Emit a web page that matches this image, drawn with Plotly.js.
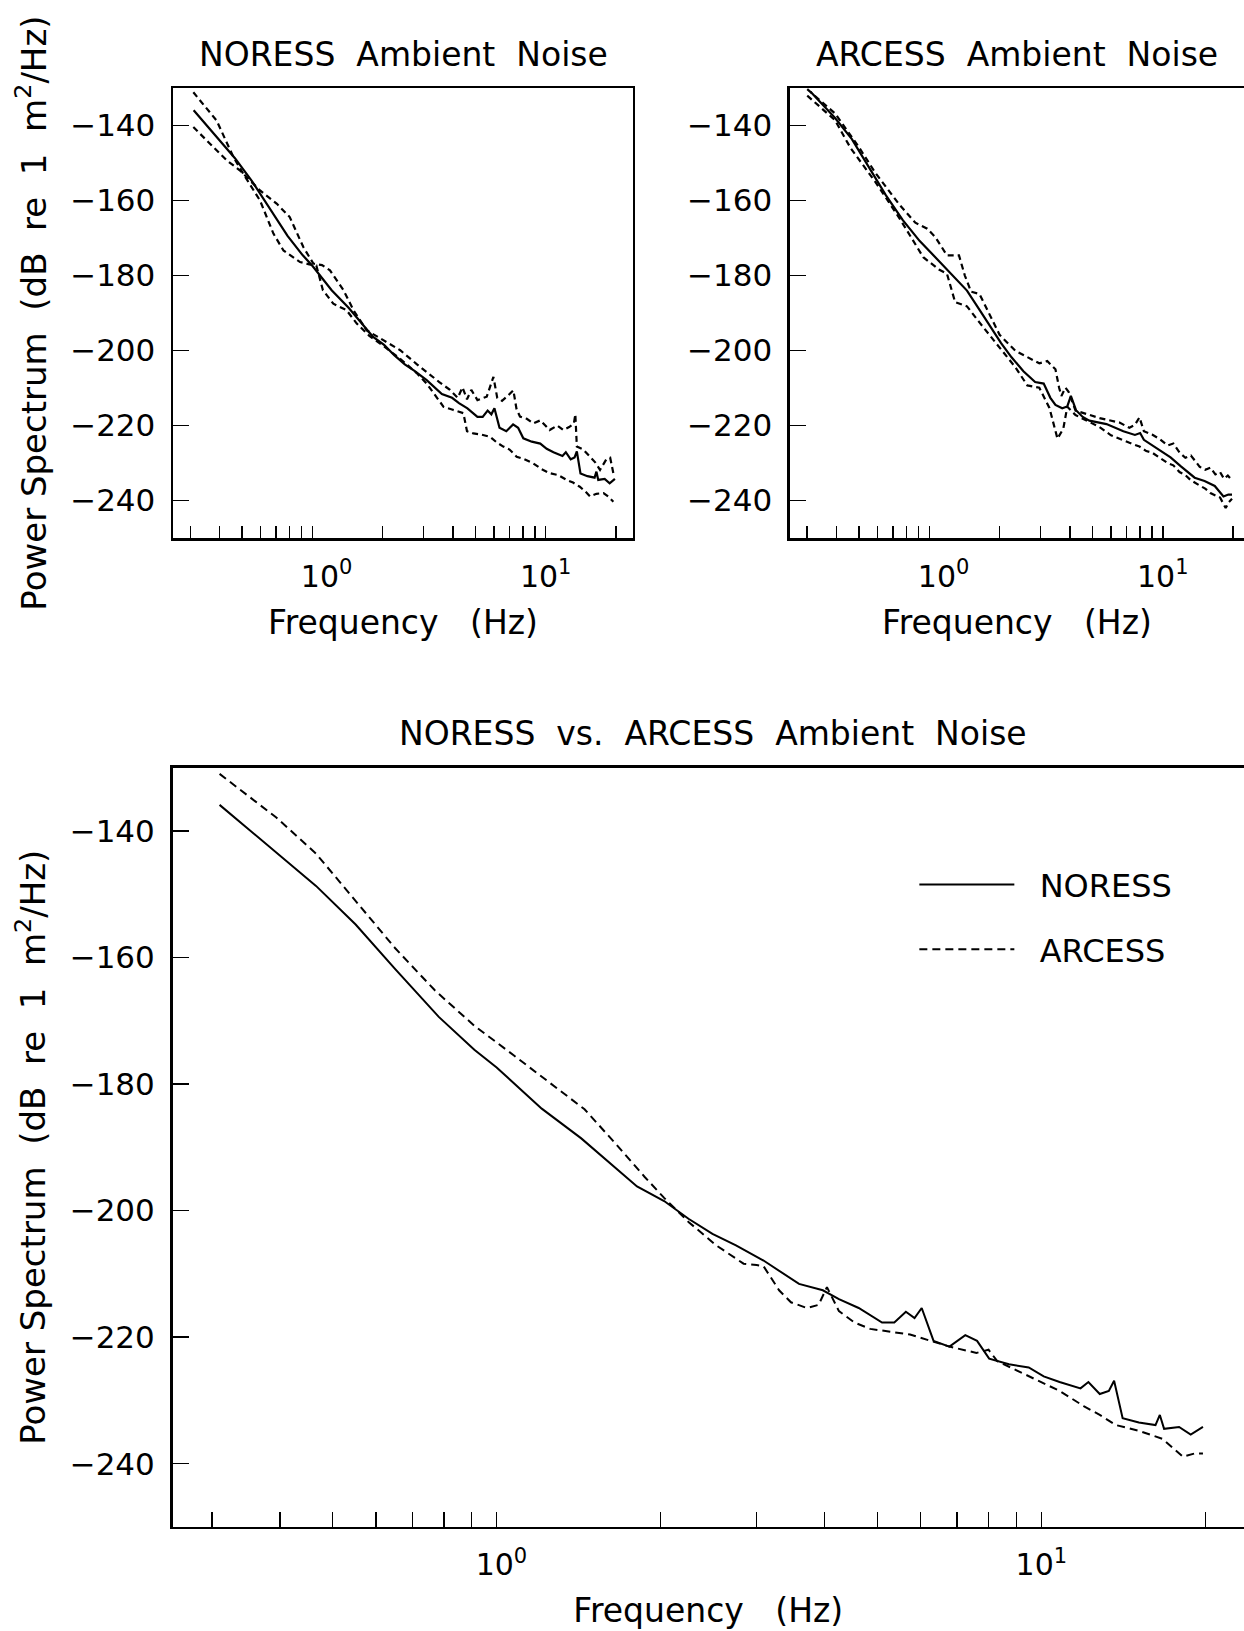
<!DOCTYPE html>
<html>
<head>
<meta charset="utf-8">
<script src="https://cdn.plot.ly/plotly-3.0.1.min.js"></script>
<style>
html,body{margin:0;padding:0;background:#ffffff;}
#chart{width:1244px;height:1631px;}
</style>
</head>
<body>
<div id="chart"></div>
<script>
// ---------- data ----------
// NORESS mean spectrum (solid)
const noressFreq = [0.31,0.394,0.466,0.551,0.652,0.783,0.91,1.0,1.21,1.43,1.61,1.81,2.03,2.25,2.49,2.75,3.09,3.59,3.97,4.25,4.62,5.1,5.37,5.64,5.85,6.03,6.34,6.78,7.25,7.62,8.02,8.72,9.48,10.1,10.8,11.8,12.2,12.8,13.3,13.6,14.1,15.1,16.2,16.5,16.8,17.9,18.8,19.8];
const noressMean = [-135.9,-143.4,-148.7,-154.8,-161.9,-169.4,-174.6,-177.4,-183.9,-188.6,-192.4,-196.2,-198.5,-201.3,-203.7,-205.5,-207.9,-211.6,-212.6,-214.0,-215.4,-217.7,-217.7,-216.0,-217.0,-215.4,-220.6,-221.5,-219.7,-220.6,-223.4,-224.3,-224.8,-226.2,-227.1,-228.1,-227.1,-229.0,-228.5,-226.9,-232.8,-233.5,-233.9,-232.3,-234.5,-234.2,-235.4,-234.2];

// ARCESS mean spectrum (dashed in the comparison plot)
const arcessFreq = [0.31,0.394,0.466,0.551,0.652,0.77,0.91,1.076,1.27,1.45,1.66,1.87,2.03,2.25,2.53,2.84,3.0,3.09,3.3,3.47,3.71,3.9,4.04,4.25,4.54,4.85,5.74,6.78,7.6,8.0,8.3,9.48,10.8,11.96,12.8,13.7,15.1,16.7,18.2,19.1,19.8];
const arcessMean = [-131.0,-137.9,-143.6,-151.1,-158.6,-165.2,-170.8,-175.5,-180.2,-184.0,-189.6,-194.7,-198.0,-201.8,-205.5,-208.4,-208.6,-208.8,-212.6,-214.5,-215.4,-214.9,-212.1,-215.9,-217.7,-218.7,-219.6,-221.5,-222.5,-222.0,-223.8,-226.2,-228.5,-230.9,-232.3,-233.9,-234.8,-236.1,-238.9,-238.4,-238.4];

// NORESS spread curves (dashed, top-left panel)
const noressBandAFreq = [0.309,0.389,0.459,0.506,0.597,0.681,0.752,0.886,0.97,1.04,1.11,1.23,1.40,1.55,1.75,2.0,2.4,2.8,3.09,3.4,3.65,4.0,4.44,4.6,4.9,5.3,5.77,6.2,6.58,7.0,7.51,8.1,8.85,9.6,10.4,11.3,12.3,13.1,14.0,14.8,15.5,16.5,17.7,18.6,19.5];
const noressBandA = [-131.1,-138.7,-148.4,-152.9,-160.0,-168.8,-173.3,-176.4,-177.0,-177.3,-183.9,-187.5,-189.2,-192.8,-196.0,-198.6,-202.4,-206.0,-208.8,-212.4,-215.0,-215.8,-216.7,-221.5,-222.1,-222.4,-223.0,-224.6,-225.6,-226.4,-228.3,-229.0,-230.1,-231.6,-232.7,-233.2,-234.5,-235.2,-236.3,-237.6,-238.9,-238.2,-238.0,-239.0,-240.3];
const noressBandBFreq = [0.309,0.365,0.43,0.49,0.597,0.703,0.80,0.915,1.01,1.1,1.19,1.36,1.5,1.71,2.01,2.38,2.8,3.09,3.5,3.89,4.2,4.4,4.6,4.8,5.1,5.59,5.8,5.97,6.2,6.5,6.9,7.27,7.5,7.76,8.3,8.85,9.5,10.4,11.2,11.9,12.6,13.2,13.4,13.6,14.5,15.5,16.3,17.1,18.2,18.9,19.5];
const noressBandB = [-140.4,-144.9,-149.3,-152.0,-157.3,-160.8,-164.4,-172.4,-176.8,-177.2,-178.6,-183.9,-189.2,-194.6,-197.2,-199.9,-203.6,-205.8,-208.4,-210.5,-212.6,-209.8,-213.0,-210.5,-213.2,-212.3,-209.0,-207.0,-212.6,-213.4,-212.0,-210.6,-215.6,-217.6,-218.2,-219.4,-218.6,-221.2,-220.0,-221.2,-220.4,-219.5,-217.0,-225.6,-226.4,-228.3,-229.8,-231.8,-229.0,-228.6,-232.7];

// ARCESS spread curves (dashed, top-right panel)
const arcessBandAFreq = [0.30,0.395,0.5,0.587,0.743,0.871,0.98,1.06,1.19,1.34,1.42,1.51,1.64,1.85,2.0,2.34,2.74,2.96,3.2,3.47,3.6,3.68,3.83,3.95,4.23,5.36,6.53,7.2,7.6,7.95,8.3,9.0,9.7,10.5,11.1,11.8,12.5,13.2,14.4,15.2,16.0,16.8,17.6,18.3,19.0,19.8];
const arcessBandA = [-130.3,-136.8,-145.8,-152.6,-161.0,-165.9,-167.5,-169.7,-174.6,-174.6,-180.0,-184.3,-184.9,-191.4,-195.8,-200.1,-202.3,-203.4,-202.8,-205.0,-210.0,-212.1,-209.9,-211.0,-216.0,-218.0,-219.2,-220.6,-219.8,-217.8,-221.5,-222.4,-223.6,-225.3,-224.8,-227.2,-228.6,-228.0,-231.0,-231.8,-231.2,-233.0,-232.4,-234.2,-233.3,-234.6];
const arcessBandBFreq = [0.30,0.395,0.46,0.587,0.743,0.942,1.10,1.19,1.29,1.45,1.64,1.92,2.34,2.63,2.96,3.27,3.54,3.75,3.9,4.23,5.36,6.0,6.53,7.2,7.95,8.5,9.0,9.7,10.5,11.1,11.8,12.5,13.2,14.4,15.2,16.0,16.8,17.6,18.6,19.2,19.8];
const arcessBandB = [-132.0,-138.6,-146.0,-155.0,-164.6,-175.1,-178.4,-179.5,-187.1,-188.2,-192.5,-197.9,-204.5,-209.3,-209.9,-215.3,-223.5,-220.8,-215.0,-217.2,-220.4,-222.6,-223.6,-224.6,-225.6,-226.8,-227.2,-228.6,-230.0,-230.6,-232.4,-233.2,-234.6,-236.0,-236.8,-238.0,-238.6,-239.2,-242.0,-240.4,-239.5];

// axis ticks (labelled decades; minor ticks at every digit)
const freqTickVals = [1, 10];
const freqTickTextTop = ['\u00a0\u00a0\u00a010<sup>0</sup>', '10<sup>1</sup>'];
const freqTickTextBottom = ['\u00a010<sup>0</sup>', '10<sup>1</sup>'];
const dbTickVals = [-140,-160,-180,-200,-220,-240];

// text
const SP2 = '\u00a0\u00a0';
const SP3 = '\u00a0\u00a0\u00a0';
const titleNoress = 'NORESS' + SP2 + 'Ambient' + SP2 + 'Noise';
const titleArcess = 'ARCESS' + SP2 + 'Ambient' + SP2 + 'Noise';
const titleBoth = 'NORESS' + SP2 + 'vs.' + SP2 + 'ARCESS' + SP2 + 'Ambient' + SP2 + 'Noise';
const xTitle = 'Frequency' + SP3 + '(Hz)';
const yTitle = 'Power Spectrum' + SP2 + '(dB' + SP2 + 're' + SP2 + '1' + SP2 + 'm<sup>2</sup>/Hz)';
const legendNames = ['\u00a0\u00a0NORESS', '\u00a0\u00a0ARCESS'];

// ---------- styling ----------
const FONT = 'DejaVu Sans, Liberation Sans, sans-serif';
const solid = {color:'#000', width:2.2};
const dashTop = {color:'#000', width:2.2, dash:'6px,4px'};
const dashBottom = {color:'#000', width:2, dash:'8px,5px'};

const traces = [
  {x:noressFreq, y:noressMean, xaxis:'x', yaxis:'y', mode:'lines', line:solid, showlegend:false},
  {x:noressBandAFreq, y:noressBandA, xaxis:'x', yaxis:'y', mode:'lines', line:dashTop, showlegend:false},
  {x:noressBandBFreq, y:noressBandB, xaxis:'x', yaxis:'y', mode:'lines', line:dashTop, showlegend:false},
  {x:arcessFreq, y:arcessMean, xaxis:'x2', yaxis:'y2', mode:'lines', line:solid, showlegend:false},
  {x:arcessBandAFreq, y:arcessBandA, xaxis:'x2', yaxis:'y2', mode:'lines', line:dashTop, showlegend:false},
  {x:arcessBandBFreq, y:arcessBandB, xaxis:'x2', yaxis:'y2', mode:'lines', line:dashTop, showlegend:false},
  {x:noressFreq, y:noressMean, xaxis:'x3', yaxis:'y3', mode:'lines', line:{color:'#000', width:2}, name:legendNames[0], legendgroup:'a'},
  {x:arcessFreq, y:arcessMean, xaxis:'x3', yaxis:'y3', mode:'lines', line:dashBottom, name:legendNames[1], legendgroup:'b'}
];

function xAxis(domain, range, anchor, tickLen, tickText, standoff){
  return {
    type:'log', domain:domain, range:range, anchor:anchor,
    tickmode:'array', tickvals:freqTickVals, ticktext:tickText,
    ticks:'inside', ticklen:tickLen, tickwidth:1.5, tickcolor:'#000',
    minor:{ticks:'inside', ticklen:tickLen, tickwidth:1.5, tickcolor:'#000', dtick:'D1', showgrid:false},
    showline:true, linewidth:2.5, linecolor:'#000', mirror:true,
    showgrid:false, zeroline:false,
    tickfont:{family:FONT, size:30, color:'#000'}, ticklabelstandoff:10,
    title:{text:xTitle, font:{family:FONT, size:33, color:'#000'}, standoff:standoff}
  };
}
function yAxis(domain, anchor, mirror, withTitle){
  const ax = {
    domain:domain, range:[-250,-130], anchor:anchor,
    tickmode:'array', tickvals:dbTickVals,
    ticks:'inside', ticklen:16, tickwidth:1.5, tickcolor:'#000',
    showline:true, linewidth:2.5, linecolor:'#000', mirror:mirror,
    showgrid:false, zeroline:false,
    tickfont:{family:FONT, size:31, color:'#000'}, ticklabelstandoff:9
  };
  if (withTitle) ax.title = {text:yTitle, font:{family:FONT, size:34, color:'#000'}, standoff:14};
  return ax;
}

const layout = {
  width:1244, height:1631,
  margin:{l:0, r:0, t:0, b:0},
  paper_bgcolor:'#fff', plot_bgcolor:'#fff',
  font:{family:FONT, color:'#000'},
  xaxis: xAxis([0.1391,0.5088],[-0.597,1.374],'y',12,freqTickTextTop,19),
  yaxis: yAxis([0.6701,0.9460],'x',true,true),
  xaxis2: xAxis([0.6350,1],[-0.597,1.348],'y2',12,freqTickTextTop,19),
  yaxis2: yAxis([0.6701,0.9460],'x2',false,false),
  xaxis3: xAxis([0.1387,1],[-0.595,1.372],'y3',15,freqTickTextBottom,18),
  yaxis3: yAxis([0.0638,0.5294],'x3',false,true),
  showlegend:true,
  legend:{x:0.735, y:0.4744, xanchor:'left', yanchor:'top', bgcolor:'rgba(0,0,0,0)',
          font:{family:FONT, size:32, color:'#000'}, itemwidth:95, tracegroupgap:20},
  annotations:[
    {text:titleNoress, xref:'paper', yref:'paper', x:0.3244, y:0.9663, xanchor:'center', yanchor:'middle', showarrow:false, font:{family:FONT, size:33, color:'#000'}},
    {text:titleArcess, xref:'paper', yref:'paper', x:0.8173, y:0.9663, xanchor:'center', yanchor:'middle', showarrow:false, font:{family:FONT, size:33, color:'#000'}},
    {text:titleBoth, xref:'paper', yref:'paper', x:0.5732, y:0.5500, xanchor:'center', yanchor:'middle', showarrow:false, font:{family:FONT, size:33, color:'#000'}}
  ]
};

Plotly.newPlot('chart', traces, layout, {staticPlot:true, displayModeBar:false});
</script>
</body>
</html>
